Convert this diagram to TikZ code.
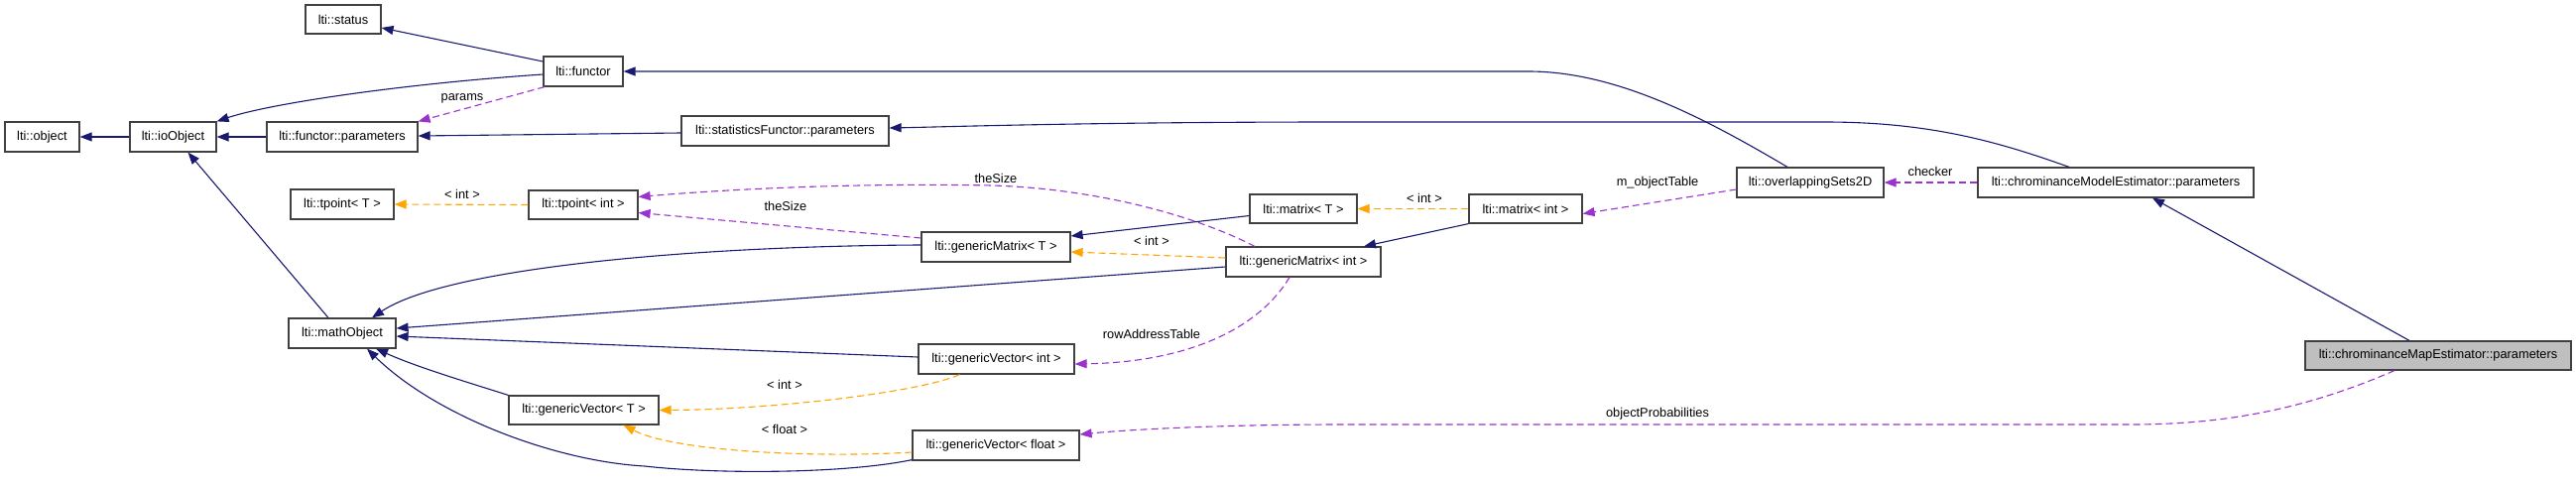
\documentclass[tikz,border=0pt]{standalone}
\usepackage{fontspec}
\setmainfont{Liberation Sans}
\usetikzlibrary{arrows.meta}
\definecolor{navyc}{HTML}{191970}
\definecolor{orangec}{HTML}{FFA500}
\definecolor{purplec}{HTML}{9A32CD}
\definecolor{grayfill}{HTML}{BFBFBF}
\definecolor{boxline}{HTML}{404040}
\tikzset{
  box/.style={draw=boxline, line width=1.2pt, fill=white, inner sep=0pt, minimum height=30pt,
    font=\fontsize{12.8}{15}\selectfont},
  lbl/.style={inner sep=0pt, font=\fontsize{12.8}{15}\selectfont},
  tipA/.style={-{Triangle[length=12pt,width=9pt]}},
  edgeinh/.style={tipA, draw=navyc, line width=1.1pt},
  edgetpl/.style={tipA, draw=orangec, line width=1.1pt, dash pattern=on 7pt off 4pt},
  edgeuse/.style={tipA, draw=purplec, line width=1.1pt, dash pattern=on 7pt off 4pt},
}
\begin{document}
\begin{tikzpicture}[x=1pt,y=-1pt]
\useasboundingbox (0,0) rectangle (2597,488);
% nodes
\node[box, minimum width=75pt]  (object)       at (42.5,138) {lti::object};
\node[box, minimum width=87pt]  (ioObject)     at (174.5,138) {lti::ioObject};
\node[box, minimum width=152pt] (functorParams) at (345,138) {lti::functor::parameters};
\node[box, minimum width=76pt, minimum height=29pt] (status) at (346,19.5) {lti::status};
\node[box, minimum width=80pt]  (functor)      at (588,72) {lti::functor};
\node[box, minimum width=209pt] (statParams)   at (791.5,132) {lti::statisticsFunctor::parameters};
\node[box, minimum width=104pt] (tpointT)      at (345,206) {lti::tpoint< T >};
\node[box, minimum width=110pt, minimum height=29pt] (tpointInt) at (588,206.5) {lti::tpoint< int >};
\node[box, minimum width=108pt] (mathObject)   at (345,336) {lti::mathObject};
\node[box, minimum width=151pt, minimum height=29pt] (genVecT) at (588.5,413.5) {lti::genericVector< T >};
\node[box, minimum width=150pt] (genMatT)      at (1004,249) {lti::genericMatrix< T >};
\node[box, minimum width=157pt] (genVecInt)    at (1004.5,362) {lti::genericVector< int >};
\node[box, minimum width=168pt] (genVecFloat)  at (1004,449) {lti::genericVector< float >};
\node[box, minimum width=108pt, minimum height=29pt] (matrixT) at (1314,210.5) {lti::matrix< T >};
\node[box, minimum width=156pt] (genMatInt)    at (1314,264) {lti::genericMatrix< int >};
\node[box, minimum width=114pt, minimum height=29pt] (matrixInt) at (1538,210.5) {lti::matrix< int >};
\node[box, minimum width=148pt] (overlapping)  at (1825,184) {lti::overlappingSets2D};
\node[box, minimum width=278pt] (chromModel)   at (2133,184) {lti::chrominanceModelEstimator::parameters};
\node[box, minimum width=268pt, minimum height=29pt, fill=grayfill] (chromMap) at (2458,358.5) {lti::chrominanceMapEstimator::parameters};

% inheritance (solid navy)
\draw[edgeinh] (ioObject.west) -- (object.east);
\draw[edgeinh] (functorParams.west) -- (ioObject.east);
\draw[edgeinh] ([yshift=-3pt]functor.west) .. controls (400,85) and (270,105) .. (ioObject.north east);
\draw[edgeinh] ([yshift=10pt]functor.west) -- ([yshift=-8.5pt]status.east);
\draw[edgeinh] ([yshift=-2pt]statParams.west) -- ([yshift=1pt]functorParams.east);
\draw[edgeinh] ([xshift=-23pt]overlapping.north) .. controls (1720,120) and (1630,72) .. (1541,72) -- (functor.east);
\draw[edgeinh] ([xshift=-47pt]chromModel.north) .. controls (2020,145) and (1950,123) .. (1840,123) -- (1350,123) .. controls (1100,123) and (950,128) .. ([yshift=3pt]statParams.east);
\draw[edgeinh] ([xshift=-29pt]chromMap.north) -- ([xshift=37pt]chromModel.south);
\draw[edgeinh] ([xshift=-14pt]mathObject.north) -- ([xshift=15pt]ioObject.south);
\draw[edgeinh] ([yshift=2pt]genMatT.west) .. controls (700,248) and (450,270) .. ([xshift=30pt]mathObject.north);
\draw[edgeinh] ([yshift=-5pt]genMatInt.west) -- ([yshift=5pt]mathObject.east);
\draw[edgeinh] ([yshift=2pt]genVecInt.west) -- ([yshift=-3pt]mathObject.east);
\draw[edgeinh] (genVecT.north west) .. controls (470,385) and (420,370) .. ([xshift=34pt]mathObject.south);
\draw[edgeinh] ([yshift=1pt]genVecFloat.south west) .. controls (850,478) and (720,478) .. (650,470) .. controls (560,465) and (440,420) .. ([xshift=25pt]mathObject.south);
\draw[edgeinh] ([yshift=-7pt]matrixT.west) -- ([yshift=11pt]genMatT.east);
\draw[edgeinh] (matrixInt.south west) -- ([xshift=61pt]genMatInt.north);

% template instantiation (dashed orange)
\draw[edgetpl] (tpointInt.west) -- (tpointT.east);
\draw[edgetpl] ([yshift=4pt]genMatInt.west) -- ([yshift=-5pt]genMatT.east);
\draw[edgetpl] (matrixInt.west) -- (matrixT.east);
\draw[edgetpl] ([xshift=-37pt]genVecInt.south) .. controls (930,395) and (780,413) .. (genVecT.east);
\draw[edgetpl] ([yshift=-7pt]genVecFloat.west) .. controls (820,462) and (680,455) .. ([xshift=40pt]genVecT.south);

% usage (dashed purple)
\draw[edgeuse] ([xshift=-39pt]functor.south) -- (functorParams.north east);
\draw[edgeuse] ([yshift=9pt]genMatT.west) -- ([yshift=-8pt]tpointInt.east);
\draw[edgeuse] ([xshift=-49pt]genMatInt.north) .. controls (1200,215) and (1100,190) .. (1000,187) .. controls (850,184) and (720,192) .. ([yshift=8pt]tpointInt.east);
\draw[edgeuse] ([xshift=-14pt]genMatInt.south) .. controls (1270,330) and (1200,365) .. ([yshift=-5pt]genVecInt.east);
\draw[edgeuse] ([yshift=-7pt]overlapping.west) -- ([yshift=-5pt]matrixInt.east);
\draw[edgeuse] (chromModel.west) -- (overlapping.east);
\draw[edgeuse] ([xshift=-44pt]chromMap.south) .. controls (2330,410) and (2250,428) .. (2148,428) -- (1350,428) .. controls (1250,428) and (1150,432) .. ([yshift=11pt]genVecFloat.east);

% labels
\node[lbl] (lparams) at (466,99) {params};
\node[lbl] (ltp) at (466,196) {< int >};
\node[lbl] (lts1) at (1004,180) {theSize};
\node[lbl] (lts2) at (792,208) {theSize};
\node[lbl] (lgm) at (1161,243) {< int >};
\node[lbl] (lmx) at (1436,200) {< int >};
\node[lbl] (lrow) at (1161,337) {rowAddressTable};
\node[lbl] (lgv) at (791,388) {< int >};
\node[lbl] (lgf) at (791,433) {< float >};
\node[lbl] (lobj) at (1671,184) {m\_objectTable};
\node[lbl] (lchk) at (1946,173) {checker};
\node[lbl] (lprob) at (1671,417) {objectProbabilities};
\end{tikzpicture}
\end{document}
